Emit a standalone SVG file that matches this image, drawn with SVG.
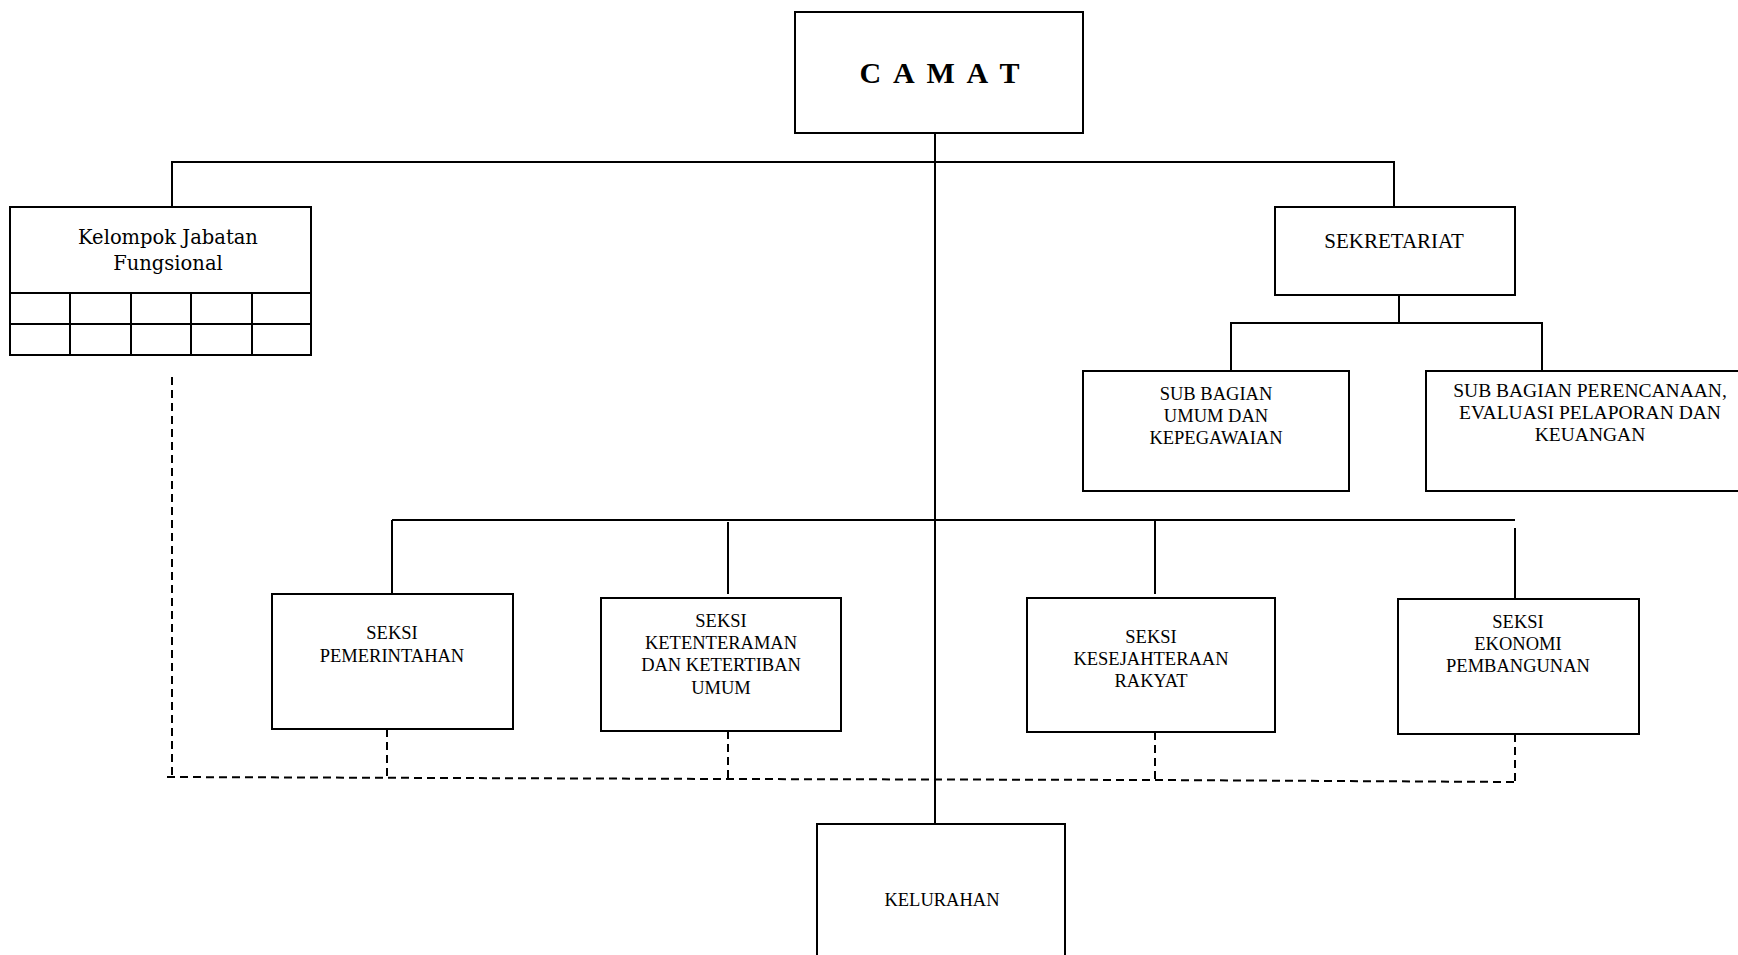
<svg xmlns="http://www.w3.org/2000/svg" width="1738" height="955" viewBox="0 0 1738 955">
  <style>
    .box { fill: #ffffff; stroke: #000000; stroke-width: 2; }
    .line { fill: none; stroke: #000000; stroke-width: 2; }
    .dash { fill: none; stroke: #000000; stroke-width: 2; stroke-dasharray: 8 5; }
    .lbl { font-family: "Liberation Serif", "Times New Roman", serif; font-size: 18.5px; fill: #000000; text-anchor: middle; }
    .wide { font-family: "DejaVu Serif", "Liberation Serif", serif; font-size: 19.5px; fill: #000000; text-anchor: middle; }
    .head { font-family: "Liberation Serif", "Times New Roman", serif; font-size: 30px; font-weight: bold; fill: #000000; text-anchor: middle; letter-spacing: 3px; }
  </style>
  <rect width="1738" height="955" fill="#ffffff"/>

  <!-- solid and dashed connectors -->
  <g id="connectors">
    <!-- trunk from CAMAT down to KELURAHAN -->
    <line class="line" x1="935" y1="133" x2="935" y2="824"/>
    <!-- top bus -->
    <polyline class="line" points="172,207 172,162 1394,162 1394,207"/>
    <!-- sekretariat to its sub-parts -->
    <line class="line" x1="1399" y1="295" x2="1399" y2="323"/>
    <polyline class="line" points="1231,371 1231,323 1542,323 1542,371"/>
    <!-- seksi bus -->
    <line class="line" x1="392" y1="520" x2="1515" y2="520"/>
    <line class="line" x1="392" y1="520" x2="392" y2="594"/>
    <line class="line" x1="728" y1="522" x2="728" y2="594"/>
    <line class="line" x1="1155" y1="520" x2="1155" y2="594"/>
    <line class="line" x1="1515" y1="528" x2="1515" y2="599"/>
    <!-- coordination lines -->
    <line class="dash" x1="172" y1="377" x2="172" y2="777"/>
    <line class="dash" x1="387" y1="729" x2="387" y2="777"/>
    <line class="dash" x1="728" y1="731" x2="728" y2="779"/>
    <line class="dash" x1="1155" y1="732" x2="1155" y2="780"/>
    <line class="dash" x1="1515" y1="734" x2="1515" y2="783"/>
    <polyline class="dash" points="167,777 728,779 1155,780 1515,782"/>
  </g>

  <g id="camat">
    <rect class="box" x="795" y="12" width="288" height="121"/>
    <text class="head" x="941" y="83">C A M A T</text>
  </g>

  <g id="kelompok-jabatan-fungsional">
    <rect class="box" x="10" y="207" width="301" height="148"/>
    <line class="line" x1="10" y1="293" x2="311" y2="293"/>
    <line class="line" x1="10" y1="324" x2="311" y2="324"/>
    <line class="line" x1="70" y1="293" x2="70" y2="355"/>
    <line class="line" x1="131" y1="293" x2="131" y2="355"/>
    <line class="line" x1="191" y1="293" x2="191" y2="355"/>
    <line class="line" x1="252" y1="293" x2="252" y2="355"/>
    <text class="wide" x="168" y="244">Kelompok Jabatan</text>
    <text class="wide" x="168" y="270">Fungsional</text>
  </g>

  <g id="sekretariat">
    <rect class="box" x="1275" y="207" width="240" height="88"/>
    <text class="lbl" x="1394" y="248" style="font-size:21px">SEKRETARIAT</text>
  </g>

  <g id="subbag-umum">
    <rect class="box" x="1083" y="371" width="266" height="120"/>
    <text class="lbl" x="1216" y="400">SUB BAGIAN</text>
    <text class="lbl" x="1216" y="422">UMUM DAN</text>
    <text class="lbl" x="1216" y="444">KEPEGAWAIAN</text>
  </g>

  <g id="subbag-perencanaan">
    <rect class="box" x="1426" y="371" width="320" height="120"/>
    <text class="lbl" x="1590" y="397" style="font-size:19.5px">SUB BAGIAN PERENCANAAN,</text>
    <text class="lbl" x="1590" y="419" style="font-size:19.5px">EVALUASI PELAPORAN DAN</text>
    <text class="lbl" x="1590" y="441" style="font-size:19.5px">KEUANGAN</text>
  </g>

  <g id="seksi-pemerintahan">
    <rect class="box" x="272" y="594" width="241" height="135"/>
    <text class="lbl" x="392" y="639">SEKSI</text>
    <text class="lbl" x="392" y="662">PEMERINTAHAN</text>
  </g>

  <g id="seksi-ketenteraman">
    <rect class="box" x="601" y="598" width="240" height="133"/>
    <text class="lbl" x="721" y="627">SEKSI</text>
    <text class="lbl" x="721" y="649">KETENTERAMAN</text>
    <text class="lbl" x="721" y="671">DAN KETERTIBAN</text>
    <text class="lbl" x="721" y="694">UMUM</text>
  </g>

  <g id="seksi-kesejahteraan">
    <rect class="box" x="1027" y="598" width="248" height="134"/>
    <text class="lbl" x="1151" y="643">SEKSI</text>
    <text class="lbl" x="1151" y="665">KESEJAHTERAAN</text>
    <text class="lbl" x="1151" y="687">RAKYAT</text>
  </g>

  <g id="seksi-ekonomi">
    <rect class="box" x="1398" y="599" width="241" height="135"/>
    <text class="lbl" x="1518" y="628">SEKSI</text>
    <text class="lbl" x="1518" y="650">EKONOMI</text>
    <text class="lbl" x="1518" y="672">PEMBANGUNAN</text>
  </g>

  <g id="kelurahan">
    <rect class="box" x="817" y="824" width="248" height="140"/>
    <text class="lbl" x="942" y="906">KELURAHAN</text>
  </g>
</svg>
